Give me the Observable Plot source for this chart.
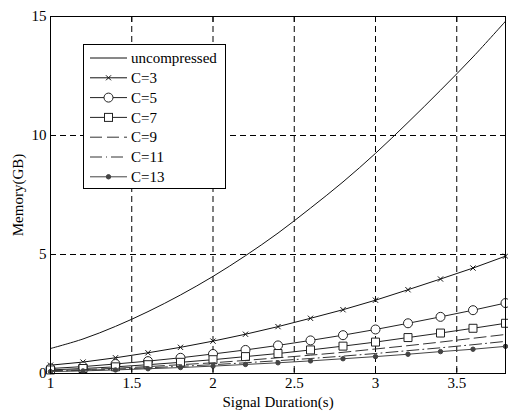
<!DOCTYPE html>
<html><head><meta charset="utf-8">
<script src="https://cdn.jsdelivr.net/npm/d3@7"></script>
<script src="https://cdn.jsdelivr.net/npm/@observablehq/plot@0.6"></script>
<style>
html,body{margin:0;padding:0;background:#fff;}
#chart{position:relative;width:508px;height:412px;}
#chart svg, #chart svg text{font-family:"Liberation Serif","Times New Roman","DejaVu Serif",serif !important;}
</style></head>
<body><div id="chart"></div>
<script>
const durations = [1,1.2,1.4,1.6,1.8,2,2.2,2.4,2.6,2.8,3,3.2,3.4,3.6,3.8];
const seriesNames = ["uncompressed","C=3","C=5","C=7","C=9","C=11","C=13"];
const uncompressed = [1.05,1.45,1.98,2.6,3.3,4.08,4.95,5.9,6.95,8.05,9.25,10.55,11.9,13.3,14.8];
const c3  = [0.35,0.48,0.66,0.87,1.1,1.36,1.65,1.97,2.32,2.68,3.08,3.52,3.97,4.43,4.93];
const c5  = [0.21,0.29,0.40,0.52,0.66,0.82,0.99,1.18,1.39,1.61,1.85,2.11,2.38,2.66,2.96];
const c7  = [0.15,0.21,0.28,0.37,0.47,0.58,0.71,0.84,0.99,1.15,1.32,1.51,1.70,1.90,2.11];
const c9  = [0.12,0.16,0.22,0.29,0.37,0.45,0.55,0.66,0.77,0.89,1.03,1.17,1.32,1.48,1.64];
const c11 = [0.10,0.13,0.18,0.24,0.30,0.37,0.45,0.54,0.63,0.73,0.84,0.96,1.08,1.21,1.35];
const c13 = [0.08,0.11,0.15,0.20,0.25,0.31,0.38,0.45,0.53,0.62,0.71,0.81,0.92,1.02,1.14];
const xTicks = [1,1.5,2,2.5,3,3.5];
const yTicks = [0,5,10,15];

const values = [uncompressed,c3,c5,c7,c9,c11,c13];
const styles = {
  "uncompressed": {stroke:"#111", dash:null, symbol:null},
  "C=3": {stroke:"#111", dash:null, symbol:"times", fill:"none", r:2.5},
  "C=5": {stroke:"#222", dash:null, symbol:"circle", fill:"white", r:4.5},
  "C=7": {stroke:"#222", dash:null, symbol:"square", fill:"white", r:4.5},
  "C=9": {stroke:"#333", dash:"12,5", symbol:null},
  "C=11": {stroke:"#333", dash:"12,4,1,4", symbol:null},
  "C=13": {stroke:"#444", dash:null, symbol:"circle", fill:"#444", r:2.2}
};
const data = [];
seriesNames.forEach((s,i)=>durations.forEach((d,j)=>data.push({series:s,x:d,y:values[i][j]})));

const marks = [
  Plot.gridX(xTicks.slice(1), {stroke:"black", strokeOpacity:1, strokeDasharray:"6,4"}),
  Plot.gridY([5,10], {stroke:"black", strokeOpacity:1, strokeDasharray:"6,4"}),
];
seriesNames.forEach(s=>{
  const st = styles[s];
  const d = data.filter(r=>r.series===s);
  marks.push(Plot.line(d,{x:"x",y:"y",stroke:st.stroke,strokeWidth:1,strokeDasharray:st.dash, curve: s==="uncompressed"?"catmull-rom":"linear"}));
  if (st.symbol) marks.push(Plot.dot(d,{x:"x",y:"y",symbol:st.symbol,r:st.r,stroke:st.stroke,fill:st.fill,strokeWidth:1}));
});
marks.push(
  Plot.frame({stroke:"black", strokeWidth:1}),
  Plot.axisX(xTicks,{tickSize:-5, tickPadding:9, label:"Signal Duration(s)", labelAnchor:"center", labelArrow:"none", labelOffset:33, tickFormat:d=>String(d)}),
  Plot.axisX(xTicks,{anchor:"top", tickSize:-5, tickFormat:()=>"", label:null}),
  Plot.axisY(yTicks,{tickSize:-5, tickPadding:9, label:"Memory(GB)", labelAnchor:"center", labelArrow:"none", labelOffset:38, tickFormat:d=>String(d)}),
  Plot.axisY(yTicks,{anchor:"right", tickSize:-5, tickFormat:()=>"", label:null})
);

const plot = Plot.plot({
  width:508, height:412,
  marginLeft:50, marginRight:3, marginTop:16, marginBottom:39,
  x:{domain:[1,3.8]},
  y:{domain:[0,15]},
  style:{fontSize:"15px", color:"black", background:"white"},
  marks
});
document.getElementById("chart").appendChild(plot);

// legend inside plot area
const svg = d3.select(plot);
const lg = svg.append("g").attr("font-size",15).attr("text-anchor","start");
lg.append("rect").attr("x",83.5).attr("y",44.5).attr("width",142).attr("height",144).attr("fill","white").attr("stroke","black");
seriesNames.forEach((s,i)=>{
  const st = styles[s];
  const y = 58 + i*19.8;
  lg.append("line").attr("x1",90).attr("x2",127).attr("y1",y).attr("y2",y).attr("stroke",st.stroke).attr("stroke-dasharray",st.dash);
  const cx = 108.5;
  if (st.symbol==="times") lg.append("path").attr("d",`M${cx-2.5},${y-2.5}L${cx+2.5},${y+2.5}M${cx-2.5},${y+2.5}L${cx+2.5},${y-2.5}`).attr("stroke",st.stroke);
  if (st.symbol==="circle") lg.append("circle").attr("cx",cx).attr("cy",y).attr("r",st.r).attr("fill",st.fill).attr("stroke",st.stroke);
  if (st.symbol==="square") lg.append("rect").attr("x",cx-4).attr("y",y-4).attr("width",8).attr("height",8).attr("fill",st.fill).attr("stroke",st.stroke);
  lg.append("text").attr("x",131).attr("y",y).attr("dy","0.35em").text(s);
});
</script>
</body></html>
